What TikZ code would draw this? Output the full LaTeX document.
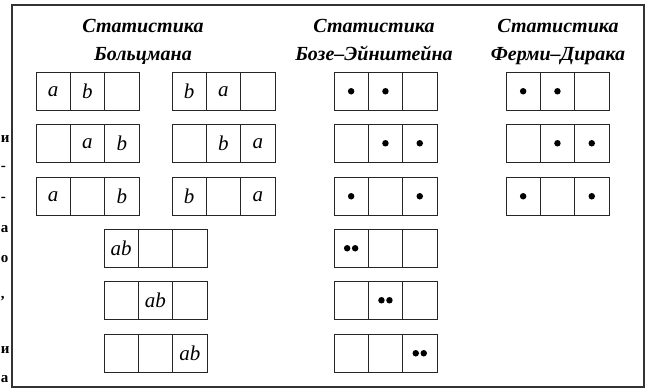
\documentclass[tikz,border=0pt]{standalone}
\usepackage{fontspec}
\setmainfont{Liberation Serif}

\tikzset{
	frame/.style={draw=black!80, line width=1.2pt},
	cell/.style={draw=black!85, line width=0.8pt, minimum width=34.3pt, minimum height=38.5pt, inner sep=0pt, font=\itshape\fontsize{21}{21}\selectfont},
	title/.style={anchor=base, inner sep=0pt, font=\bfseries\itshape\fontsize{20}{24}\selectfont},
	dot/.style={circle, fill=black, inner sep=0pt, minimum size=6.5pt},
	frag/.style={anchor=base west, inner sep=0pt, font=\bfseries\fontsize{15}{15}\selectfont}
}

\begin{document}
\begin{tikzpicture}[x=1pt,y=-1pt]
		\useasboundingbox (0,0) rectangle (649,389);
		\draw[frame] (12,5) rectangle (644,387);

		% cut-off text of the neighbouring page
		\foreach \ch/\yy [count=\i] in {и/142, -/170, -/201, а/232, о/262, {,}/298, и/353, а/382} {
				\node[frag] (frag-\i) at (0.8,\yy) {\ch};
			}

		% titles
		\node[title] (tB1) at (143,32) {Статистика};
		\node[title] (tB2) at (143,60) {Больцмана};
		\node[title] (tE1) at (374,32) {Статистика};
		\node[title] (tE2) at (374,60) {Бозе–Эйнштейна};
		\node[title] (tF1) at (558,32) {Статистика};
		\node[title] (tF2) at (558,60) {Ферми–Дирака};

		% Boltzmann: two boxes per row, then the doubly occupied cells
		\foreach \r/\top/\ca/\cb in {1/72/{a,b,{}}/{b,a,{}}, 2/124/{{},a,b}/{{},b,a}, 3/177/{a,{},b}/{b,{},a}} {
				\foreach \c [count=\k] in \ca {
						\node[cell] (bzA-\r-\k) at (36+34.3*\k-17.15,\top+19.25) {\c};
					}
				\foreach \c [count=\k] in \cb {
						\node[cell] (bzB-\r-\k) at (172+34.3*\k-17.15,\top+19.25) {\c};
					}
			}
		\foreach \r/\top/\ca in {4/229/{ab,{},{}}, 5/281/{{},ab,{}}, 6/334/{{},{},ab}} {
				\foreach \c [count=\k] in \ca {
						\node[cell] (bzC-\r-\k) at (104+34.3*\k-17.15,\top+19.25) {\c};
					}
			}

		% Bose-Einstein: number of particles per cell
		\foreach \r/\top/\ca in {1/72/{1,1,0}, 2/124/{0,1,1}, 3/177/{1,0,1}, 4/229/{2,0,0}, 5/281/{0,2,0}, 6/334/{0,0,2}} {
				\foreach \n [count=\k] in \ca {
						\node[cell] (be-\r-\k) at (334+34.3*\k-17.15,\top+19.25) {};
						\ifcase\n
						\or
							\node[dot] (be-\r-\k-d) at (be-\r-\k.center) {};
						\or
							\node[dot] (be-\r-\k-l) at ([xshift=-4pt]be-\r-\k.center) {};
							\node[dot] (be-\r-\k-r) at ([xshift=4pt]be-\r-\k.center) {};
						\fi
					}
			}

		% Fermi-Dirac
		\foreach \r/\top/\ca in {1/72/{1,1,0}, 2/124/{0,1,1}, 3/177/{1,0,1}} {
				\foreach \n [count=\k] in \ca {
						\node[cell] (fd-\r-\k) at (506+34.3*\k-17.15,\top+19.25) {};
						\ifnum\n=1
							\node[dot] (fd-\r-\k-d) at (fd-\r-\k.center) {};
						\fi
					}
			}
	\end{tikzpicture}
\end{document}
